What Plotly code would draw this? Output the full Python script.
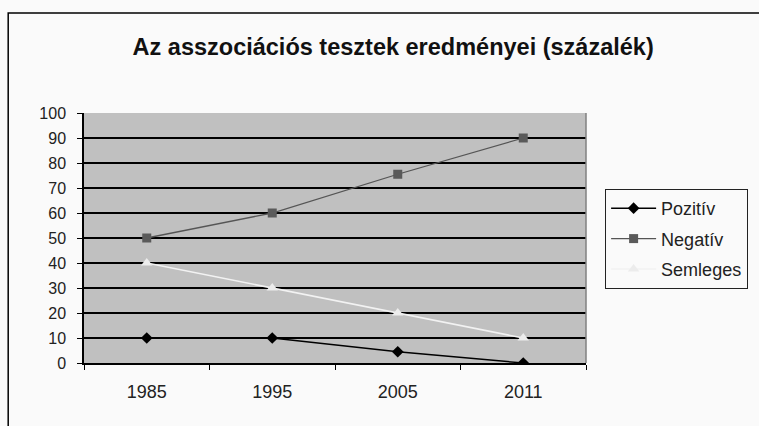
import plotly.graph_objects as go

years = ["1985", "1995", "2005", "2011"]
pozitiv = [10, 10, 4.5, 0]
negativ = [50, 60, 75.5, 90]
semleges = [40, 30, 20, 10]

fig = go.Figure()

fig.add_trace(go.Scatter(
    x=years, y=pozitiv, name="Pozitív", mode="lines+markers",
    line=dict(color="#000000", width=1.5),
    marker=dict(symbol="diamond", size=9, color="#000000"),
    legendgroup="a",
))
fig.add_trace(go.Scatter(
    x=years, y=negativ, name="Negatív", mode="lines+markers",
    line=dict(color="#555555", width=1.3),
    marker=dict(symbol="square", size=9, color="#5a5a5a"),
    legendgroup="b",
))
fig.add_trace(go.Scatter(
    x=years, y=semleges, name="Semleges", mode="lines+markers",
    line=dict(color="#f2f2f2", width=1.5),
    marker=dict(symbol="triangle-up", size=10, color="#ececec"),
    legendgroup="c",
))

# outer chart frame (cut off at right and bottom in the original)
fig.add_shape(
    type="rect", xref="paper", yref="paper",
    x0=-0.151, x1=1.4, y0=-0.3, y1=1.4,
    line=dict(color="#000000", width=1.5), layer="below",
)

fig.update_layout(
    width=759, height=426,
    margin=dict(l=84, r=172, t=113, b=63),
    paper_bgcolor="#fafafa",
    plot_bgcolor="#c0c0c0",
    font=dict(family="Arial, Liberation Sans, sans-serif", size=16, color="#222222"),
    title=dict(
        text="<b>Az asszociációs tesztek eredményei (százalék)</b>",
        x=0.518, xanchor="center", y=0.89, yanchor="middle",
        font=dict(size=23.5, color="#111111"),
    ),
    legend=dict(
        x=1.036, y=0.696, xanchor="left", yanchor="top",
        bordercolor="#222222", borderwidth=1, bgcolor="#fafafa",
        font=dict(size=18), tracegroupgap=4, itemwidth=45,
    ),
    showlegend=True,
)

fig.update_xaxes(
    type="category", range=[-0.5, 3.5],
    showgrid=False, showline=True, linecolor="#000000", linewidth=1.5,
    ticks="outside", tickson="boundaries", ticklen=5, tickcolor="#000000",
    ticklabelstandoff=12, tickfont=dict(size=18),
)
fig.update_yaxes(
    range=[0, 100], dtick=10,
    showgrid=True, gridcolor="#000000", gridwidth=1.5,
    showline=True, linecolor="#000000", linewidth=1.5,
    ticks="outside", ticklen=5, tickcolor="#000000",
    ticklabelstandoff=8, zeroline=False, tickfont=dict(size=16),
)

# right edge of the plot area
fig.add_shape(
    type="line", xref="paper", yref="paper",
    x0=1, x1=1, y0=0, y1=1, line=dict(color="#808080", width=1.5),
)

fig.write_html(
    "out.html",
    config={"displayModeBar": False},
    post_script="document.body.style.margin='0px';document.body.style.overflow='hidden';",
)
